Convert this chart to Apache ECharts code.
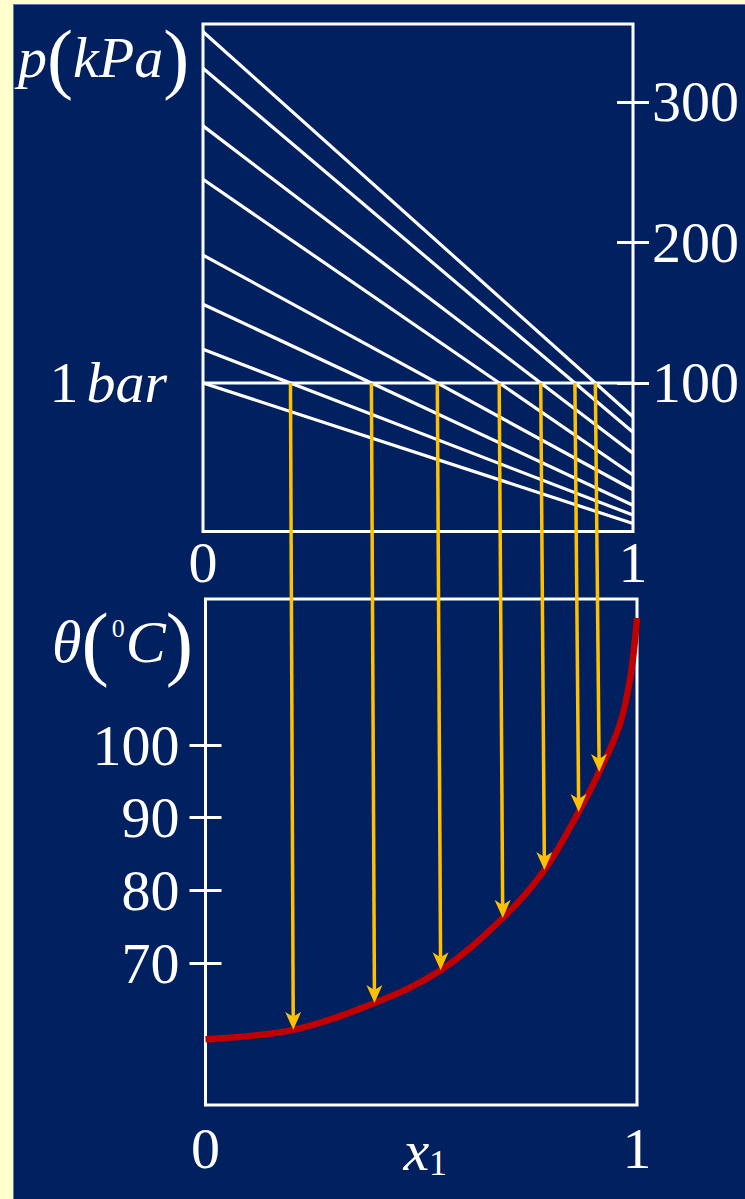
<!DOCTYPE html>
<html>
<head>
<meta charset="utf-8">
<script src="https://cdn.jsdelivr.net/npm/echarts@6/dist/echarts.min.js"></script>
<style>
  html, body { margin: 0; padding: 0; width: 745px; height: 1199px; overflow: hidden; background: #FFFFCC; }
  #panel { position: absolute; left: 13px; top: 4px; right: 0; bottom: 0; background: #002060;
           border-left: 1px solid #5a78a8; border-top: 1px solid #5a78a8; }
  #chart { position: absolute; left: 0; top: 0; width: 745px; height: 1199px; }
</style>
</head>
<body>
<div id="panel"></div>
<div id="chart"></div>
<script>
// Total pressure of the ideal mixture vs x1, one straight line per temperature (kPa)
const lineTemps = [96.3, 90.8, 82.8, 76.2, 69.0, 64.5, 60.8, 59.5];   // °C
const pAtX0     = [350, 324, 283, 245, 191, 156, 124, 100];         // kPa at x1 = 0
const pAtX1     = [76, 65, 50, 34.5, 24, 13, 6, 0];                 // kPa at x1 = 1
const pOneBar   = 100;                                              // kPa

// Steep end of the boiling curve near pure component 1
const tailX     = [0.96, 0.985, 1];
const tailTheta = [102.8, 109.5, 117.5];

// Tick labels
const pTicks     = [100, 200, 300];
const thetaTicks = [70, 80, 90, 100];
const xTicks     = [0, 1];

const WHITE = '#ffffff', GOLD = '#FFC000', RED = '#C00000';
const SERIF = "'Liberation Serif', 'Times New Roman', serif";

// Bubble-point composition: where each isotherm crosses 1 bar
const bubbleX = pAtX0.map((p0, i) => (p0 - pOneBar) / (p0 - pAtX1[i]));

const curve = bubbleX.map((x, i) => [x, lineTemps[i]])
  .concat(tailX.map((x, i) => [x, tailTheta[i]]))
  .sort((a, b) => a[0] - b[0]);

const labelStyle = { color: WHITE, fontFamily: SERIF, fontSize: 58 };

// Ticks that straddle the frame: the axis is shifted half a tick off the
// border and its ticks are twice that long, so they cross the border line.
const TICK_HALF = 16;
function tickAxis(gridIndex, position, min, max, ticks, labelGap, inside) {
  return {
    type: 'value', gridIndex, position, min, max,
    offset: inside ? TICK_HALF : -TICK_HALF,
    axisLine: { show: false, onZero: false },
    splitLine: { show: false },
    axisTick: { show: true, inside, length: 2 * TICK_HALF, customValues: ticks,
                lineStyle: { color: WHITE, width: 3 } },
    axisLabel: Object.assign({ show: true, customValues: ticks,
                               margin: inside ? labelGap - TICK_HALF : labelGap + TICK_HALF }, labelStyle)
  };
}

const series = pAtX0.map((p0, i) => ({
  type: 'line', xAxisIndex: 0, yAxisIndex: 0,
  data: [[0, p0], [1, pAtX1[i]]],
  symbol: 'none', silent: true, clip: false,
  lineStyle: { color: WHITE, width: 3.2 }
}));

// 1 bar reference line
series.push({
  type: 'line', xAxisIndex: 0, yAxisIndex: 0,
  data: [[0, pOneBar], [1, pOneBar]],
  symbol: 'none', silent: true, clip: false,
  lineStyle: { color: WHITE, width: 3.2 }
});

// Boiling temperature vs x1
series.push({
  type: 'line', xAxisIndex: 1, yAxisIndex: 1,
  data: curve, smooth: 0.35,
  symbol: 'none', silent: true, clip: false,
  lineStyle: { color: RED, width: 6.5, cap: 'butt' }
});

const chart = echarts.init(document.getElementById('chart'), null, { renderer: 'svg' });

chart.setOption({
  animation: false,
  backgroundColor: 'transparent',
  grid: [
    { left: 203, top: 24, width: 430, height: 507.5, show: true,
      borderColor: WHITE, borderWidth: 3, backgroundColor: 'transparent',
      containLabel: false, outerBoundsMode: 'none' },
    { left: 205.5, top: 599, width: 431.5, height: 506, show: true,
      borderColor: WHITE, borderWidth: 3, backgroundColor: 'transparent',
      containLabel: false, outerBoundsMode: 'none' }
  ],
  xAxis: [
    { type: 'value', gridIndex: 0, position: 'bottom', min: 0, max: 1,
      axisLine: { show: false, onZero: false }, axisTick: { show: false }, splitLine: { show: false },
      axisLabel: Object.assign({ customValues: xTicks, margin: 2 }, labelStyle) },
    { type: 'value', gridIndex: 1, position: 'bottom', min: 0, max: 1,
      axisLine: { show: false, onZero: false }, axisTick: { show: false }, splitLine: { show: false },
      axisLabel: Object.assign({ customValues: xTicks, margin: 14 }, labelStyle) }
  ],
  yAxis: [
    tickAxis(0, 'right', -5.7, 355.5, pTicks, 19, true),
    tickAxis(1, 'left', 50.46, 120.1, thetaTicks, 26, false)
  ],
  series
});

// Titles and the arrows linking each 1 bar crossing to its boiling point
const yOneBar = chart.convertToPixel({ gridIndex: 0 }, [0, pOneBar])[1];
const xMid = chart.convertToPixel({ gridIndex: 1 }, [0.5, 60])[0];

const graphics = [
  { type: 'text', x: 18, y: 57, z: 10, silent: true,
    style: { text: '{i|p}{b|(}{i|kPa}{b|)}', align: 'left', verticalAlign: 'middle',
      rich: {
        i: { fill: WHITE, fontFamily: SERIF, fontStyle: 'italic', fontSize: 58 },
        b: { fill: WHITE, fontFamily: SERIF, fontSize: 78 }
      } } },
  { type: 'text', x: 167, y: yOneBar, z: 10, silent: true,
    style: { text: '{n|1}{i|bar}', align: 'right', verticalAlign: 'middle',
      rich: {
        n: { fill: WHITE, fontFamily: SERIF, fontSize: 58 },
        i: { fill: WHITE, fontFamily: SERIF, fontStyle: 'italic', fontSize: 58, padding: [0, 0, 0, 8] }
      } } },
  { type: 'text', x: 52, y: 642, z: 10, silent: true,
    style: { text: '{i|θ}{b|(}{s|0}{i|C}{b|)}', align: 'left', verticalAlign: 'middle',
      rich: {
        i: { fill: WHITE, fontFamily: SERIF, fontStyle: 'italic', fontSize: 60 },
        b: { fill: WHITE, fontFamily: SERIF, fontSize: 82 },
        s: { fill: WHITE, fontFamily: SERIF, fontSize: 26, padding: [0, 1, 28, 3] }
      } } },
  { type: 'text', x: xMid + 4, y: 1150, z: 10, silent: true,
    style: { text: '{i|x}{s|1}', align: 'center', verticalAlign: 'middle',
      rich: {
        i: { fill: WHITE, fontFamily: SERIF, fontStyle: 'italic', fontSize: 58 },
        s: { fill: WHITE, fontFamily: SERIF, fontSize: 36, padding: [26, 0, 0, 0] }
      } } }
];

bubbleX.forEach((x, i) => {
  if (x <= 0) return;
  const [x0, y0] = chart.convertToPixel({ gridIndex: 0 }, [x, pOneBar]);
  const [x1, y1] = chart.convertToPixel({ gridIndex: 1 }, [x, lineTemps[i]]);
  const dx = x1 - x0, dy = y1 - y0, len = Math.hypot(dx, dy);
  const ux = dx / len, uy = dy / len, nx = -uy, ny = ux;
  const head = 18, half = 8, notch = 5;
  const bx = x1 - ux * head, by = y1 - uy * head;
  graphics.push({
    type: 'line', z: 20, silent: true,
    shape: { x1: x0, y1: y0, x2: x1 - ux * (head - notch), y2: y1 - uy * (head - notch) },
    style: { stroke: GOLD, lineWidth: 3.5 }
  });
  graphics.push({
    type: 'polygon', z: 21, silent: true,
    shape: { points: [
      [x1, y1],
      [bx + nx * half, by + ny * half],
      [x1 - ux * (head - notch), y1 - uy * (head - notch)],
      [bx - nx * half, by - ny * half]
    ] },
    style: { fill: GOLD }
  });
});

chart.setOption({ graphic: graphics });
</script>
</body>
</html>
